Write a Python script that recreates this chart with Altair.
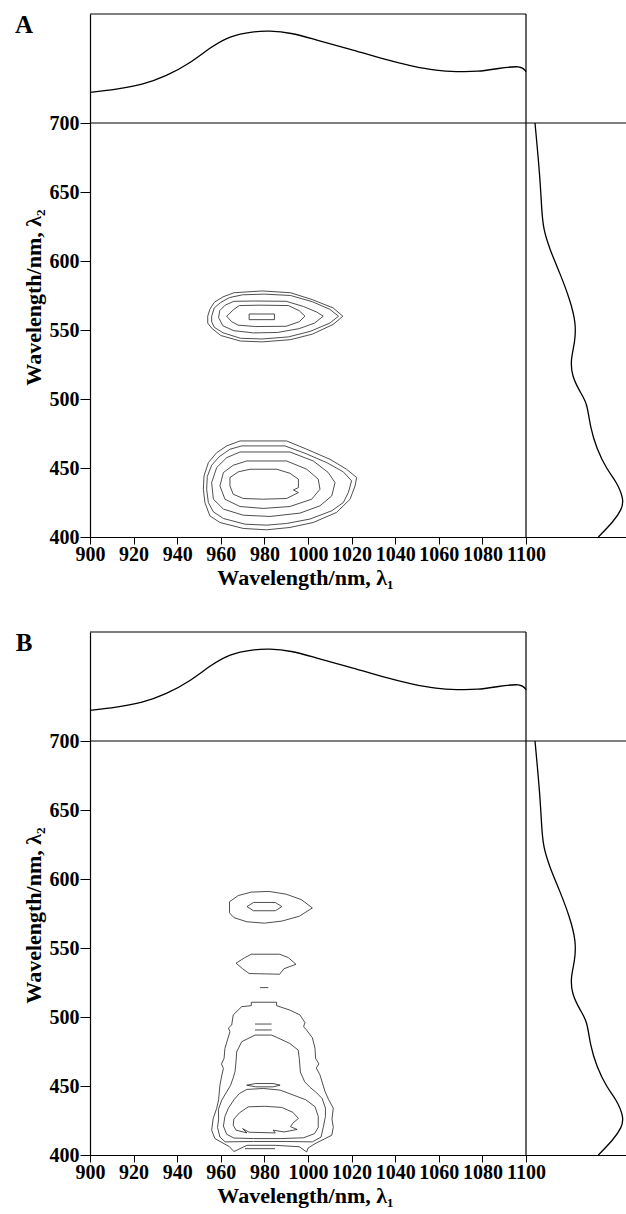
import altair as alt
import pandas as pd

# ---------------- data ----------------
# NIR absorption spectrum shown above each map (normalised absorbance)
nir_wavelength = [900, 912, 924, 935, 946, 955, 964, 975, 982, 992, 1004, 1019,
                  1034, 1048, 1059, 1068, 1078, 1087, 1098, 1100]
nir_absorbance = [0.28, 0.31, 0.35, 0.43, 0.55, 0.69, 0.80, 0.84, 0.846, 0.83, 0.76,
                  0.68, 0.59, 0.52, 0.48, 0.47, 0.47, 0.50, 0.53, 0.47]

# Visible absorption spectrum shown right of each map (normalised absorbance)
vis_wavelength = [700, 661, 637, 623, 608, 591, 572, 555, 541, 529, 517, 505, 497,
                  480, 464, 449, 440, 427, 420, 411, 400]
vis_absorbance = [0.09, 0.14, 0.157, 0.173, 0.24, 0.34, 0.44, 0.50, 0.49, 0.447, 0.457,
                  0.54, 0.613, 0.64, 0.707, 0.807, 0.907, 0.98, 0.957, 0.873, 0.723]

# Contour lines (lambda1, lambda2) of panel A
a_upper_1 = [(954, 560), (955, 565), (957, 570), (961, 574), (966, 577), (979, 578.3), (992, 577),
             (1002, 572), (1011.5, 566), (1016, 560), (1011.5, 554), (1002, 547), (992, 543),
             (979, 541.4), (969, 542), (960, 546), (956, 551), (954, 555), (954, 560)]
a_upper_2 = [(955.8, 560), (957, 566), (960, 570), (964, 573.5), (970, 575.5), (980, 576), (992, 575),
             (1002, 570.5), (1010, 565), (1014, 560), (1010, 555), (1001, 549), (991, 545),
             (979, 543.5), (969, 544), (961, 548), (957, 552), (955.8, 556), (955.8, 560)]
a_upper_3 = [(959, 559), (959.5, 564), (962, 568), (966, 570.8), (975, 571), (990, 570.8), (998, 567),
             (1004, 563), (1007, 560), (1003, 555), (996, 551), (986, 548.2), (975, 547.9),
             (966, 549.5), (961, 553), (959, 559)]
a_upper_4 = [(962.7, 560), (966, 565), (968.5, 567.7), (978, 568), (991, 567.7), (996, 564),
             (998.6, 560), (996, 556), (990, 552.7), (976, 552.5), (968, 553.5), (965, 556), (962.7, 560)]
a_upper_5 = [(973, 561.6), (984.6, 561.6), (984.6, 557.5), (973, 557.5), (973, 561.6)]

a_lower_1 = [(968.8, 469.6), (990.2, 469.6), (999.4, 463.6), (1010.1, 456.3), (1017.7, 449.1),
             (1022.3, 443.1), (1021.6, 437.0), (1019.3, 427.4), (1013.1, 417.8), (1002.4, 410.5),
             (991.7, 406.9), (981.0, 405.2), (970.3, 406.2), (959.6, 410.5), (955.0, 415.3),
             (952.7, 425.0), (952.0, 434.6), (952.3, 444.3), (954.3, 453.9), (958.1, 461.1),
             (962.7, 466.0), (968.8, 469.6)]
a_lower_2 = [(969.6, 466), (989.4, 466), (998.6, 460.7), (1008.6, 453.9), (1016.2, 447.2),
             (1020, 440.7), (1018.5, 432.2), (1016.2, 425), (1010.9, 419), (1000.9, 413),
             (990.2, 409.8), (981, 408.6), (971.1, 409.3), (961.2, 413.4), (956.6, 418.2),
             (954.3, 425), (953.5, 434.6), (953.8, 443.8), (955.8, 452), (959.3, 458.2),
             (964.2, 463.6), (969.6, 466)]
a_lower_3 = [(968.8, 461.6), (991.7, 461.6), (1002.4, 455.1), (1009.3, 446.7), (1012.4, 439.4),
             (1010.9, 429.8), (1005.5, 422.6), (996.3, 417.3), (982.6, 414.9), (970.3, 415.8),
             (961.2, 420.2), (956.6, 427.4), (955.8, 439.4), (958.1, 450.3), (962.7, 457.5),
             (968.8, 461.6)]
a_lower_4 = [(971.9, 455.1), (990.2, 455.1), (999.4, 449.1), (1004.7, 441.9), (1005.5, 434.6),
             (1001.7, 427.4), (991.7, 422.1), (979.5, 420.7), (968.8, 422.1), (961.9, 427.4),
             (959.6, 437.0), (961.2, 446.7), (965.7, 452.0), (971.9, 455.1)]
a_lower_5 = [(973.4, 449.1), (985.6, 449.1), (991.7, 446.2), (995.6, 441.9), (995.6, 435.8),
             (993.3, 434.1), (995.6, 432.2), (990.2, 427.9), (979.5, 427.4), (970.3, 427.9),
             (965.7, 431.0), (964.2, 437.0), (964.2, 443.1), (968.0, 447.2), (973.4, 449.1)]

# Contour lines (lambda1, lambda2) of panel B
b_top_1 = [(964, 583.5), (968, 588), (974, 590.5), (982, 591), (990, 589), (997, 585), (1002, 579),
           (996, 573), (988, 569.5), (980, 568), (972, 569), (966, 572), (964, 575.5), (964, 583.5)]
b_top_2 = [(972, 580), (975, 583), (985, 583), (988, 580), (985, 577), (975, 577), (972, 580)]
b_mid_1 = [(967, 539), (971, 543), (974, 545.5), (987, 545.5), (991, 543), (994.5, 538.2),
           (989, 535), (987, 531), (973, 531.5), (970, 535), (967, 539)]
b_mid_2 = [(978, 521.3), (981.8, 521.3)]
b_low_1 = [(974, 510.7), (985.6, 510.7), (985.6, 508.2), (991.7, 505), (996.3, 501.5), (998.6, 496),
           (998, 493), (999.6, 490), (1002, 485), (1003.2, 477.3), (1003.5, 470), (1005, 466),
           (1003.8, 463), (1005.5, 458), (1007.8, 446), (1009.5, 440), (1011.6, 434), (1011, 426),
           (1011.6, 420), (1010.9, 414.3), (1003.2, 408.2), (1000, 405), (999.4, 402.2), (996, 406),
           (985, 407), (972, 407), (966, 402.5), (964, 406), (957.3, 411.9), (955.8, 418),
           (956.5, 426.4), (958.1, 433.7), (959, 440), (959.6, 450.6), (960.5, 458), (961.2, 462.7),
           (960.3, 466), (961.5, 470), (961.9, 477.3), (964.2, 489.4), (963.5, 492), (965, 494.2),
           (965.7, 501.5), (969.6, 507.5), (974, 508.2), (974, 510.7)]
b_low_2 = [(975.7, 486.9), (983.3, 486.9), (986, 485), (991.7, 480.8), (995.5, 476), (996, 470),
           (996.5, 460), (998.5, 453), (1001, 449), (1004, 445), (1006.5, 440.9), (1008, 434),
           (1008, 428), (1007, 420), (1006, 413), (1002, 409.5), (990, 409.8), (975, 409.8),
           (962, 409.5), (959.6, 413), (958.5, 420), (959, 426), (958.9, 433), (960.5, 440),
           (962.7, 445.7), (964.5, 450.6), (965.7, 456), (966.5, 460.3), (967, 468), (967.3, 474.8),
           (969.6, 482.1), (975.7, 486.9)]
b_low_3 = [(971.9, 447.5), (979.5, 448.2), (987.2, 447), (994, 443), (999, 440), (1003.2, 435),
           (1004.7, 428), (1004.7, 420), (1003, 415.5), (998, 412.5), (988, 411.9), (975, 411.9),
           (966, 412.3), (962.7, 415), (961.2, 421), (961.9, 428), (963.5, 434), (966, 440),
           (968.5, 444.5), (971.9, 447.5)]
b_low_4 = [(966, 426), (968.5, 430.5), (972.6, 434.9), (980, 435.3), (987.9, 434.5), (993, 431),
           (995.6, 426.5), (993, 423), (992, 420.5), (995, 418.5), (989, 416.7), (984, 418),
           (985, 416), (973, 416.5), (970, 419.1), (972, 416), (967, 418), (965.7, 421.6), (966, 426)]
b_low_5 = [(971.9, 450.6), (976, 451.8), (984, 451.8), (987.2, 450.6), (984, 449.4), (976, 449.4),
           (971.9, 450.6)]
b_low_6 = [(975.7, 494.9), (983.3, 494.9)]
b_low_7 = [(975.7, 490.6), (983.3, 490.6)]
b_low_8 = [(971.1, 404.6), (984.9, 404.6)]

panel_a_contours = [a_upper_1, a_upper_2, a_upper_3, a_upper_4, a_upper_5,
                    a_lower_1, a_lower_2, a_lower_3, a_lower_4, a_lower_5]
panel_b_contours = [b_top_1, b_top_2, b_mid_1, b_mid_2, b_low_1, b_low_2, b_low_3,
                    b_low_4, b_low_5, b_low_6, b_low_7, b_low_8]

x_ticks = list(range(900, 1101, 20))
y_ticks = list(range(400, 701, 50))

# ---------------- layout geometry (pixels) ----------------
PLOT_W = 536      # 900 nm axis ... right edge of page
BOX_W = 436       # 900 -> 1100 nm
STRIP_H = 109     # height of the NIR strip above the map
MAP_H = 414       # 700 -> 400 nm
B_OFF = 618       # vertical offset of panel B
TOTAL_H = B_OFF + STRIP_H + MAP_H

X_MAX = 900 + 200 * PLOT_W / BOX_W
Y_TOP = 700 + 300 * STRIP_H / MAP_H

FONT = "Liberation Serif"


def contour_frame(contours):
    rows = []
    for cid, pts in enumerate(contours):
        for idx, (l1, l2) in enumerate(pts):
            rows.append({"cid": cid, "idx": idx, "l1": l1, "l2": l2})
    return pd.DataFrame(rows)


nir_df = pd.DataFrame({"wl": nir_wavelength, "a": nir_absorbance})
vis_df = pd.DataFrame({"wl": vis_wavelength, "a": vis_absorbance})
frame_df = pd.DataFrame({"x": [900, 1100, 900], "x2": [1100, 1100, X_MAX],
                         "y": [Y_TOP, 400, 700], "y2": [Y_TOP, Y_TOP, 700]})


def panel(contours, off, letter):
    xs = alt.Scale(domain=[900, X_MAX], range=[0, PLOT_W], nice=False, zero=False)
    ys = alt.Scale(domain=[400, Y_TOP], range=[off + STRIP_H + MAP_H, off], nice=False, zero=False)
    x_axis = alt.Axis(orient="bottom", offset=-(TOTAL_H - (off + STRIP_H + MAP_H)),
                      values=x_ticks, format="d", title="Wavelength/nm, λ₁", titleX=215,
                      titlePadding=3, grid=False, tickSize=7, tickColor="black",
                      domainColor="black", domainWidth=1.2, labelPadding=0, labelFlush=False,
                      labelOverlap=False, labelFont=FONT, labelFontSize=20,
                      labelFontWeight="bold", labelColor="black", titleFont=FONT,
                      titleFontSize=22, titleFontWeight="bold", titleColor="black")
    y_axis = alt.Axis(orient="left", values=y_ticks, format="d", title="Wavelength/nm, λ₂",
                      titleY=off + 283, titlePadding=4, grid=False, tickSize=10,
                      tickColor="black", domainColor="black", domainWidth=1.2, labelPadding=1,
                      labelFlush=False, labelOverlap=False, labelFont=FONT, labelFontSize=20,
                      labelFontWeight="bold", labelColor="black", titleFont=FONT,
                      titleFontSize=22, titleFontWeight="bold", titleColor="black")

    cont = alt.Chart(contour_frame(contours)).mark_line(color="#222222", strokeWidth=0.8).encode(
        x=alt.X("l1:Q", scale=xs, axis=x_axis),
        y=alt.Y("l2:Q", scale=ys, axis=y_axis),
        detail="cid:N",
        order="idx:Q",
    )
    frame = alt.Chart(frame_df).mark_rule(color="black", strokeWidth=1.2).encode(
        x=alt.X("x:Q", scale=xs, axis=None),
        x2="x2:Q",
        y=alt.Y("y:Q", scale=ys, axis=None),
        y2="y2:Q",
    )
    top = alt.Chart(nir_df).mark_line(color="black", strokeWidth=1.3, interpolate="basis").encode(
        x=alt.X("wl:Q", scale=xs, axis=None),
        y=alt.Y("a:Q", scale=alt.Scale(domain=[0, 1], range=[off + STRIP_H, off], nice=False, zero=False), axis=None),
        order="wl:Q",
    )
    right = alt.Chart(vis_df).mark_line(color="black", strokeWidth=1.3, interpolate="basis").encode(
        x=alt.X("a:Q", scale=alt.Scale(domain=[0, 1], range=[BOX_W, PLOT_W], nice=False, zero=False), axis=None),
        y=alt.Y("wl:Q", scale=ys, axis=None),
        order=alt.Order("wl:Q", sort="descending"),
    )
    lab = alt.Chart(pd.DataFrame({"t": [letter]})).mark_text(
        font=FONT, fontSize=25, fontWeight="bold", color="black", align="center", baseline="middle"
    ).encode(text="t:N", x=alt.value(-66), y=alt.value(off + 11))
    return [cont, frame, top, right, lab]


layers = panel(panel_a_contours, 0, "A") + panel(panel_b_contours, B_OFF, "B")

chart = alt.layer(*layers).resolve_scale(x="independent", y="independent").properties(
    width=PLOT_W,
    height=TOTAL_H,
    autosize=alt.AutoSizeParams(type="none"),
    padding={"left": 90, "top": 14, "right": 0, "bottom": 1214 - 14 - TOTAL_H},
    background="white",
).configure_view(stroke=None)

chart.save("out.html", embed_options={"renderer": "svg", "actions": False})
